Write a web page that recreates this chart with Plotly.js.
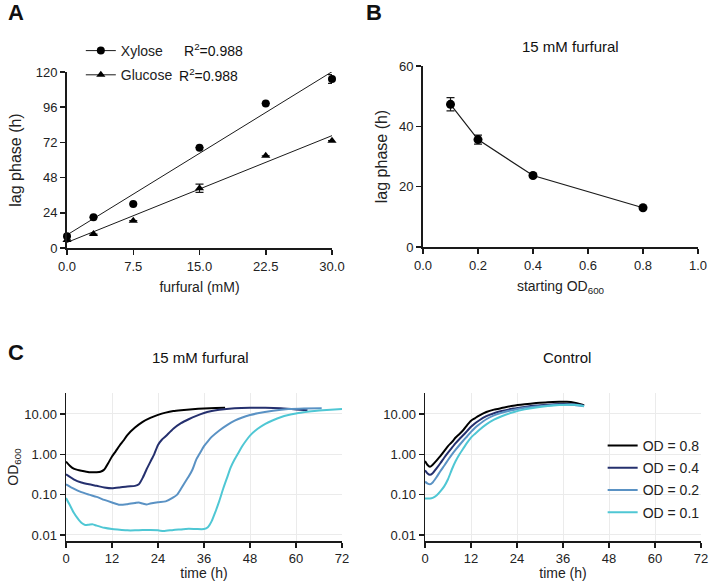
<!DOCTYPE html>
<html>
<head>
<meta charset="utf-8">
<script src="https://cdn.plot.ly/plotly-3.0.1.min.js"></script>
<style>
  body { margin: 0; background: #fff; }
  #fig { width: 709px; height: 581px; }
</style>
</head>
<body>
<div id="fig"></div>
<script>
// ---- panel A: lag phase vs furfural ----
const furfural = [0, 3, 7.5, 15, 22.5, 30];
const xyloseLag = [8, 21, 30, 68.4, 98.6, 115.2];
const xyloseErr = [0, 0, 0, 0, 0, 3];
const glucoseLag = [5.5, 9.5, 18.6, 40.7, 62.9, 73.2];
const glucoseErr = [0, 0, 0, 2.8, 0, 0];
const fitX = [0, 30];
const xyloseFit = [8.9, 120.2];
const glucoseFit = [3.8, 76.6];

// ---- panel B: lag phase vs starting OD ----
const startOD = [0.1, 0.2, 0.4, 0.8];
const startLag = [47.3, 35.6, 23.7, 13];
const startErr = [2.2, 1.5, 0.5, 0.4];

// ---- panel C: growth curves, 15 mM furfural ----
const furT08 = [0, 1, 2, 3, 4, 6, 8, 9, 10, 11, 12, 13, 14, 15, 16, 18, 20, 22, 24, 26, 28, 30, 33, 36, 39, 41.5];
const furOD08 = [0.66, 0.52, 0.44, 0.41, 0.39, 0.36, 0.36, 0.37, 0.42, 0.6, 0.88, 1.2, 1.65, 2.2, 3.0, 4.6, 6.4, 8.0, 9.5, 10.8, 11.8, 12.4, 13.1, 13.7, 14.1, 14.3];
const furT04 = [0, 2, 4, 6, 8, 10, 12, 14, 16, 18, 19, 20, 21, 22, 23, 24, 25, 26, 28, 30, 32, 34, 36, 38, 40, 44, 48, 52, 56, 60, 63];
const furOD04 = [0.32, 0.24, 0.2, 0.18, 0.165, 0.15, 0.143, 0.15, 0.16, 0.165, 0.18, 0.26, 0.42, 0.65, 1.0, 1.7, 2.3, 2.8, 4.3, 5.9, 7.4, 9.0, 10.6, 11.8, 12.8, 13.9, 14.3, 14.2, 13.8, 13.0, 12.3];
const furT02 = [0, 2, 4, 6, 8, 10, 12, 14, 16, 18, 19, 20, 21, 22, 24, 26, 28, 29, 30, 31, 32, 33, 34, 35, 36, 37, 38, 40, 42, 44, 46, 48, 50, 54, 58, 62, 66.7];
const furOD02 = [0.18, 0.14, 0.115, 0.1, 0.088, 0.074, 0.064, 0.056, 0.058, 0.062, 0.064, 0.06, 0.057, 0.06, 0.065, 0.068, 0.085, 0.1, 0.14, 0.2, 0.28, 0.42, 0.75, 1.1, 1.6, 2.1, 2.7, 3.9, 5.3, 6.8, 8.2, 9.4, 10.4, 12.0, 13.2, 13.7, 13.8];
const furT01 = [0, 1, 2, 3, 4, 5, 6, 7, 8, 10, 12, 14, 16, 18, 20, 22, 24, 25.5, 28, 30, 32, 34, 36, 37, 38, 39, 40, 41, 42, 43, 44, 45, 46, 47, 48, 50, 52, 54, 56, 58, 60, 62, 64, 66, 68, 70, 72];
const furOD01 = [0.082, 0.055, 0.036, 0.026, 0.02, 0.0177, 0.018, 0.0183, 0.017, 0.015, 0.014, 0.0135, 0.013, 0.013, 0.0132, 0.0132, 0.013, 0.0125, 0.0133, 0.0137, 0.0142, 0.014, 0.014, 0.0155, 0.022, 0.038, 0.07, 0.14, 0.26, 0.48, 0.75, 1.1, 1.6, 2.2, 2.9, 4.3, 5.7, 7.0, 8.3, 9.4, 10.3, 11.0, 11.7, 12.2, 12.6, 13.0, 13.3];

// ---- panel C: growth curves, control ----
const ctlT = [0, 0.6, 1.3, 2, 3, 4, 5, 6, 7, 8, 9, 10, 11, 12, 13, 14, 16, 18, 20, 23, 26, 29, 32, 35, 37, 39, 41.5];
const ctlOD08 = [0.68, 0.55, 0.49, 0.55, 0.7, 0.9, 1.2, 1.6, 2.0, 2.6, 3.2, 4.0, 5.3, 6.8, 7.8, 9.0, 11.2, 12.8, 14.0, 16.0, 17.4, 18.6, 19.6, 20.0, 20.0, 19.0, 16.5];
const ctlOD04 = [0.4, 0.34, 0.31, 0.34, 0.45, 0.6, 0.82, 1.1, 1.45, 1.9, 2.4, 3.0, 3.8, 4.8, 5.8, 6.8, 8.8, 10.4, 11.8, 13.6, 15.0, 16.2, 17.0, 17.6, 17.7, 17.3, 16.0];
const ctlOD02 = [0.21, 0.19, 0.18, 0.2, 0.27, 0.38, 0.52, 0.72, 0.98, 1.3, 1.7, 2.2, 2.8, 3.6, 4.5, 5.4, 7.4, 9.2, 10.7, 12.6, 14.2, 15.4, 16.3, 16.9, 17.0, 16.8, 15.6];
const ctlOD01 = [0.08, 0.08, 0.08, 0.083, 0.095, 0.12, 0.16, 0.24, 0.42, 0.68, 1.0, 1.4, 1.95, 2.6, 3.2, 3.9, 5.5, 7.2, 8.8, 11.0, 13.0, 14.5, 15.7, 16.6, 17.0, 16.9, 15.8];

const odLabels = ['OD = 0.8', 'OD = 0.4', 'OD = 0.2', 'OD = 0.1'];
const odColors = ['#000000', '#25306e', '#5a92c4', '#4fc7d4'];
const logTicks = [0.01, 0.1, 1, 10];
const logTickText = ['0.01', '0.10', '1.00', '10.00'];

const W = 709, H = 581;
const px = (a, b) => [a / W, b / W];
const py = (top, bottom) => [1 - bottom / H, 1 - top / H];

const FONT = 'Liberation Sans, Arial, sans-serif';
const INK = '#1a1a1a';

function axisBase(extra) {
  return Object.assign({
    showline: true, linecolor: INK, linewidth: 2,
    ticks: 'outside', ticklen: 5, tickwidth: 1.5, tickcolor: INK,
    showgrid: false, zeroline: false, fixedrange: true,
    tickfont: {size: 13, color: '#222'}
  }, extra);
}

// paper-placed text helper
function label(text, x, y, size, xanchor) {
  return {text: text, x: x / W, y: 1 - y / H, xref: 'paper', yref: 'paper',
    xanchor: xanchor || 'center', yanchor: 'middle', showarrow: false,
    font: {size: size, color: '#111'}};
}

let traces = [];

// A
traces.push({x: fitX, y: xyloseFit, xaxis: 'x', yaxis: 'y', mode: 'lines',
  line: {color: INK, width: 1}, showlegend: false, hoverinfo: 'skip'});
traces.push({x: fitX, y: glucoseFit, xaxis: 'x', yaxis: 'y', mode: 'lines',
  line: {color: INK, width: 1}, showlegend: false, hoverinfo: 'skip'});
traces.push({x: furfural, y: xyloseLag, xaxis: 'x', yaxis: 'y', mode: 'markers', cliponaxis: false,
  marker: {symbol: 'circle', size: 8, color: '#000'},
  error_y: {type: 'data', array: xyloseErr, visible: true, color: INK, thickness: 1.2, width: 4},
  showlegend: false});
traces.push({x: furfural, y: glucoseLag, xaxis: 'x', yaxis: 'y', mode: 'markers', cliponaxis: false,
  marker: {symbol: 'triangle-up', size: 8, color: '#000'},
  error_y: {type: 'data', array: glucoseErr, visible: true, color: INK, thickness: 1.2, width: 4},
  showlegend: false});
// legend-only entries for A
traces.push({x: [null], y: [null], xaxis: 'x', yaxis: 'y', mode: 'lines+markers', name: 'Xylose',
  legend: 'legend', legendgroup: 'xy', marker: {symbol: 'circle', size: 8, color: '#000'},
  line: {color: INK, width: 1}});
traces.push({x: [null], y: [null], xaxis: 'x', yaxis: 'y', mode: 'lines+markers', name: 'Glucose',
  legend: 'legend', legendgroup: 'gl', marker: {symbol: 'triangle-up', size: 8, color: '#000'},
  line: {color: INK, width: 1}});

// B
traces.push({x: startOD, y: startLag, xaxis: 'x2', yaxis: 'y2', mode: 'lines+markers', cliponaxis: false,
  marker: {symbol: 'circle', size: 9, color: '#000'},
  line: {color: INK, width: 1.2},
  error_y: {type: 'data', array: startErr, visible: true, color: INK, thickness: 1.2, width: 4},
  showlegend: false});

// C left
const furSets = [[furT08, furOD08], [furT04, furOD04], [furT02, furOD02], [furT01, furOD01]];
furSets.forEach((s, i) => {
  traces.push({x: s[0], y: s[1], xaxis: 'x3', yaxis: 'y3', mode: 'lines',
    line: {color: odColors[i], width: 2, shape: 'spline', smoothing: 0.6}, showlegend: false});
});
// C right
const ctlSets = [ctlOD08, ctlOD04, ctlOD02, ctlOD01];
ctlSets.forEach((s, i) => {
  traces.push({x: ctlT, y: s, xaxis: 'x4', yaxis: 'y4', mode: 'lines', name: odLabels[i],
    legend: 'legend2', legendgroup: 'od' + i,
    line: {color: odColors[i], width: 2, shape: 'spline', smoothing: 0.6}});
});

const cX = {range: [0, 72], tickvals: [0, 12, 24, 36, 48, 60, 72], linewidth: 1.5,
  showgrid: true, gridcolor: '#ebebeb', gridwidth: 1,
  title: {text: 'time (h)', font: {size: 14, color: '#222'}, standoff: 4}};
const cY = {type: 'log', range: [-2.15, 1.52], tickvals: logTicks, ticktext: logTickText, linewidth: 1.5,
  showgrid: true, gridcolor: '#ebebeb', gridwidth: 1};

let layout = {
  width: W, height: H,
  margin: {l: 0, r: 0, t: 0, b: 0},
  paper_bgcolor: '#fff', plot_bgcolor: '#fff',
  font: {family: FONT, color: '#222'},
  xaxis: axisBase({domain: px(67, 332), anchor: 'y', range: [0, 30], tickvals: furfural.filter(v => v !== 3),
    tickformat: '.1f', title: {text: 'furfural (mM)', font: {size: 14}, standoff: 10}}),
  yaxis: axisBase({domain: py(72, 248), anchor: 'x', range: [0, 120], dtick: 24,
    title: {text: 'lag phase (h)', font: {size: 16}, standoff: 10}}),
  xaxis2: axisBase({domain: px(423, 698), anchor: 'y2', range: [0, 1], dtick: 0.2, tickformat: '.1f',
    title: {text: 'starting OD<sub>600</sub>', font: {size: 14}, standoff: 10}}),
  yaxis2: axisBase({domain: py(66, 247), anchor: 'x2', range: [0, 60], dtick: 20,
    title: {text: 'lag phase (h)', font: {size: 16}, standoff: 7}}),
  xaxis3: axisBase(Object.assign({domain: px(66, 342), anchor: 'y3'}, cX)),
  yaxis3: axisBase(Object.assign({domain: py(393, 541), anchor: 'x3',
    title: {text: 'OD<sub>600</sub>', font: {size: 14}, standoff: 2}}, cY)),
  xaxis4: axisBase(Object.assign({domain: px(425, 701), anchor: 'y4'}, cX)),
  yaxis4: axisBase(Object.assign({domain: py(393, 541), anchor: 'x4'}, cY)),
  legend: {x: 0.114, y: 1 - 35 / H, xanchor: 'left', yanchor: 'top', bgcolor: 'rgba(0,0,0,0)',
    font: {size: 14, color: '#222'}, traceorder: 'grouped', tracegroupgap: 3, itemwidth: 30},
  legend2: {x: 0.85, y: 1 - 430 / H, xanchor: 'left', yanchor: 'top', bgcolor: 'rgba(0,0,0,0)',
    font: {size: 14, color: '#222'}, traceorder: 'grouped', tracegroupgap: 1, itemwidth: 30},
  annotations: [
    label('<b>A</b>', 6, 13, 22, 'left'),
    label('<b>B</b>', 364, 13, 22, 'left'),
    label('<b>C</b>', 6, 352, 22, 'left'),
    label('15 mM furfural', 570, 47, 15),
    label('15 mM furfural', 200, 357, 15),
    label('Control', 567, 357, 15),
    label('R<sup>2</sup>=0.988', 182, 50, 14, 'left'),
    label('R<sup>2</sup>=0.988', 177, 75, 14, 'left')
  ]
};

Plotly.newPlot('fig', traces, layout, {staticPlot: true, displayModeBar: false});
</script>
</body>
</html>
